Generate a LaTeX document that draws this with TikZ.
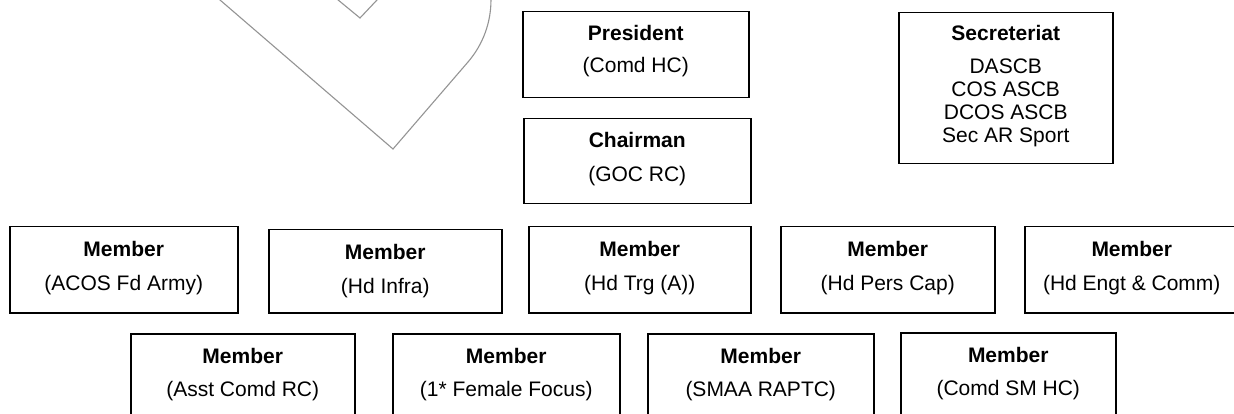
\documentclass[tikz,border=0pt]{standalone}
\usepackage{fontspec}
\setmainfont{Liberation Sans}
\begin{document}
\begin{tikzpicture}[x=1pt,y=-1pt,
  box/.style={draw=black, line width=1.5pt, rectangle, inner sep=0pt, anchor=north west},
  ttl/.style={font=\fontsize{21}{24}\selectfont\bfseries, anchor=base, inner sep=0pt},
  sub/.style={font=\fontsize{21}{24}\selectfont, anchor=base, inner sep=0pt},
  heart/.style={draw=black!42, line width=1.1pt}]
\useasboundingbox (0,0) rectangle (1234,414);
\clip (0,0) rectangle (1234,414);
\fill[white] (0,0) rectangle (1234,414);
% watermark outline
\draw[heart] (196.8,-20) -- (393,149) -- (468,62) arc[start angle=40.7, end angle=-40, radius=95];
\draw[heart] (326,-10) -- (360,18) -- (386.4,-10);
% boxes
\node[box, minimum width=226pt, minimum height=86pt] (pres) at (522,11) {};
\node[ttl] (presT) at ([yshift=-30pt]pres.north) {President};
\node[sub] (presS) at ([yshift=-62pt]pres.north) {(Comd HC)};
\node[box, minimum width=227pt, minimum height=85pt] (chair) at (523,118) {};
\node[ttl] (chairT) at ([yshift=-30pt]chair.north) {Chairman};
\node[sub] (chairS) at ([yshift=-64pt]chair.north) {(GOC RC)};
\node[box, minimum width=214pt, minimum height=151pt] (sec) at (898,12) {};
\node[ttl] (secT) at ([yshift=-29pt]sec.north) {Secreteriat};
\node[sub] (sec1) at ([yshift=-62pt]sec.north) {DASCB};
\node[sub] (sec2) at ([yshift=-85pt]sec.north) {COS ASCB};
\node[sub] (sec3) at ([yshift=-108pt]sec.north) {DCOS ASCB};
\node[sub] (sec4) at ([yshift=-131pt]sec.north) {Sec AR Sport};
% row 1
\node[box, minimum width=228pt, minimum height=86pt] (m1) at (9,226) {};
\node[ttl] (m1T) at ([yshift=-30pt]m1.north) {Member};
\node[sub] (m1S) at ([yshift=-64pt]m1.north) {(ACOS Fd Army)};
\node[box, minimum width=233pt, minimum height=83pt] (m2) at (268,229) {};
\node[ttl] (m2T) at ([yshift=-30pt]m2.north) {Member};
\node[sub] (m2S) at ([yshift=-64pt]m2.north) {(Hd Infra)};
\node[box, minimum width=222pt, minimum height=86pt] (m3) at (528,226) {};
\node[ttl] (m3T) at ([yshift=-30pt]m3.north) {Member};
\node[sub] (m3S) at ([yshift=-64pt]m3.north) {(Hd Trg (A))};
\node[box, minimum width=214pt, minimum height=86pt] (m4) at (780,226) {};
\node[ttl] (m4T) at ([yshift=-30pt]m4.north) {Member};
\node[sub] (m4S) at ([yshift=-64pt]m4.north) {(Hd Pers Cap)};
\node[box, minimum width=214pt, minimum height=86pt] (m5) at (1024,226) {};
\node[ttl] (m5T) at ([yshift=-30pt]m5.north) {Member};
\node[sub] (m5S) at ([yshift=-64pt]m5.north) {(Hd Engt \& Comm)};
% row 2
\node[box, minimum width=224pt, minimum height=100pt] (n1) at (130,333) {};
\node[ttl] (n1T) at ([yshift=-30pt]n1.north) {Member};
\node[sub] (n1S) at ([yshift=-63pt]n1.north) {(Asst Comd RC)};
\node[box, minimum width=227pt, minimum height=100pt] (n2) at (392,333) {};
\node[ttl] (n2T) at ([yshift=-30pt]n2.north) {Member};
\node[sub] (n2S) at ([yshift=-63pt]n2.north) {(1* Female Focus)};
\node[box, minimum width=226pt, minimum height=100pt] (n3) at (647,333) {};
\node[ttl] (n3T) at ([yshift=-30pt]n3.north) {Member};
\node[sub] (n3S) at ([yshift=-63pt]n3.north) {(SMAA RAPTC)};
\node[box, minimum width=215pt, minimum height=100pt] (n4) at (900,332) {};
\node[ttl] (n4T) at ([yshift=-30pt]n4.north) {Member};
\node[sub] (n4S) at ([yshift=-63pt]n4.north) {(Comd SM HC)};
\end{tikzpicture}
\end{document}
